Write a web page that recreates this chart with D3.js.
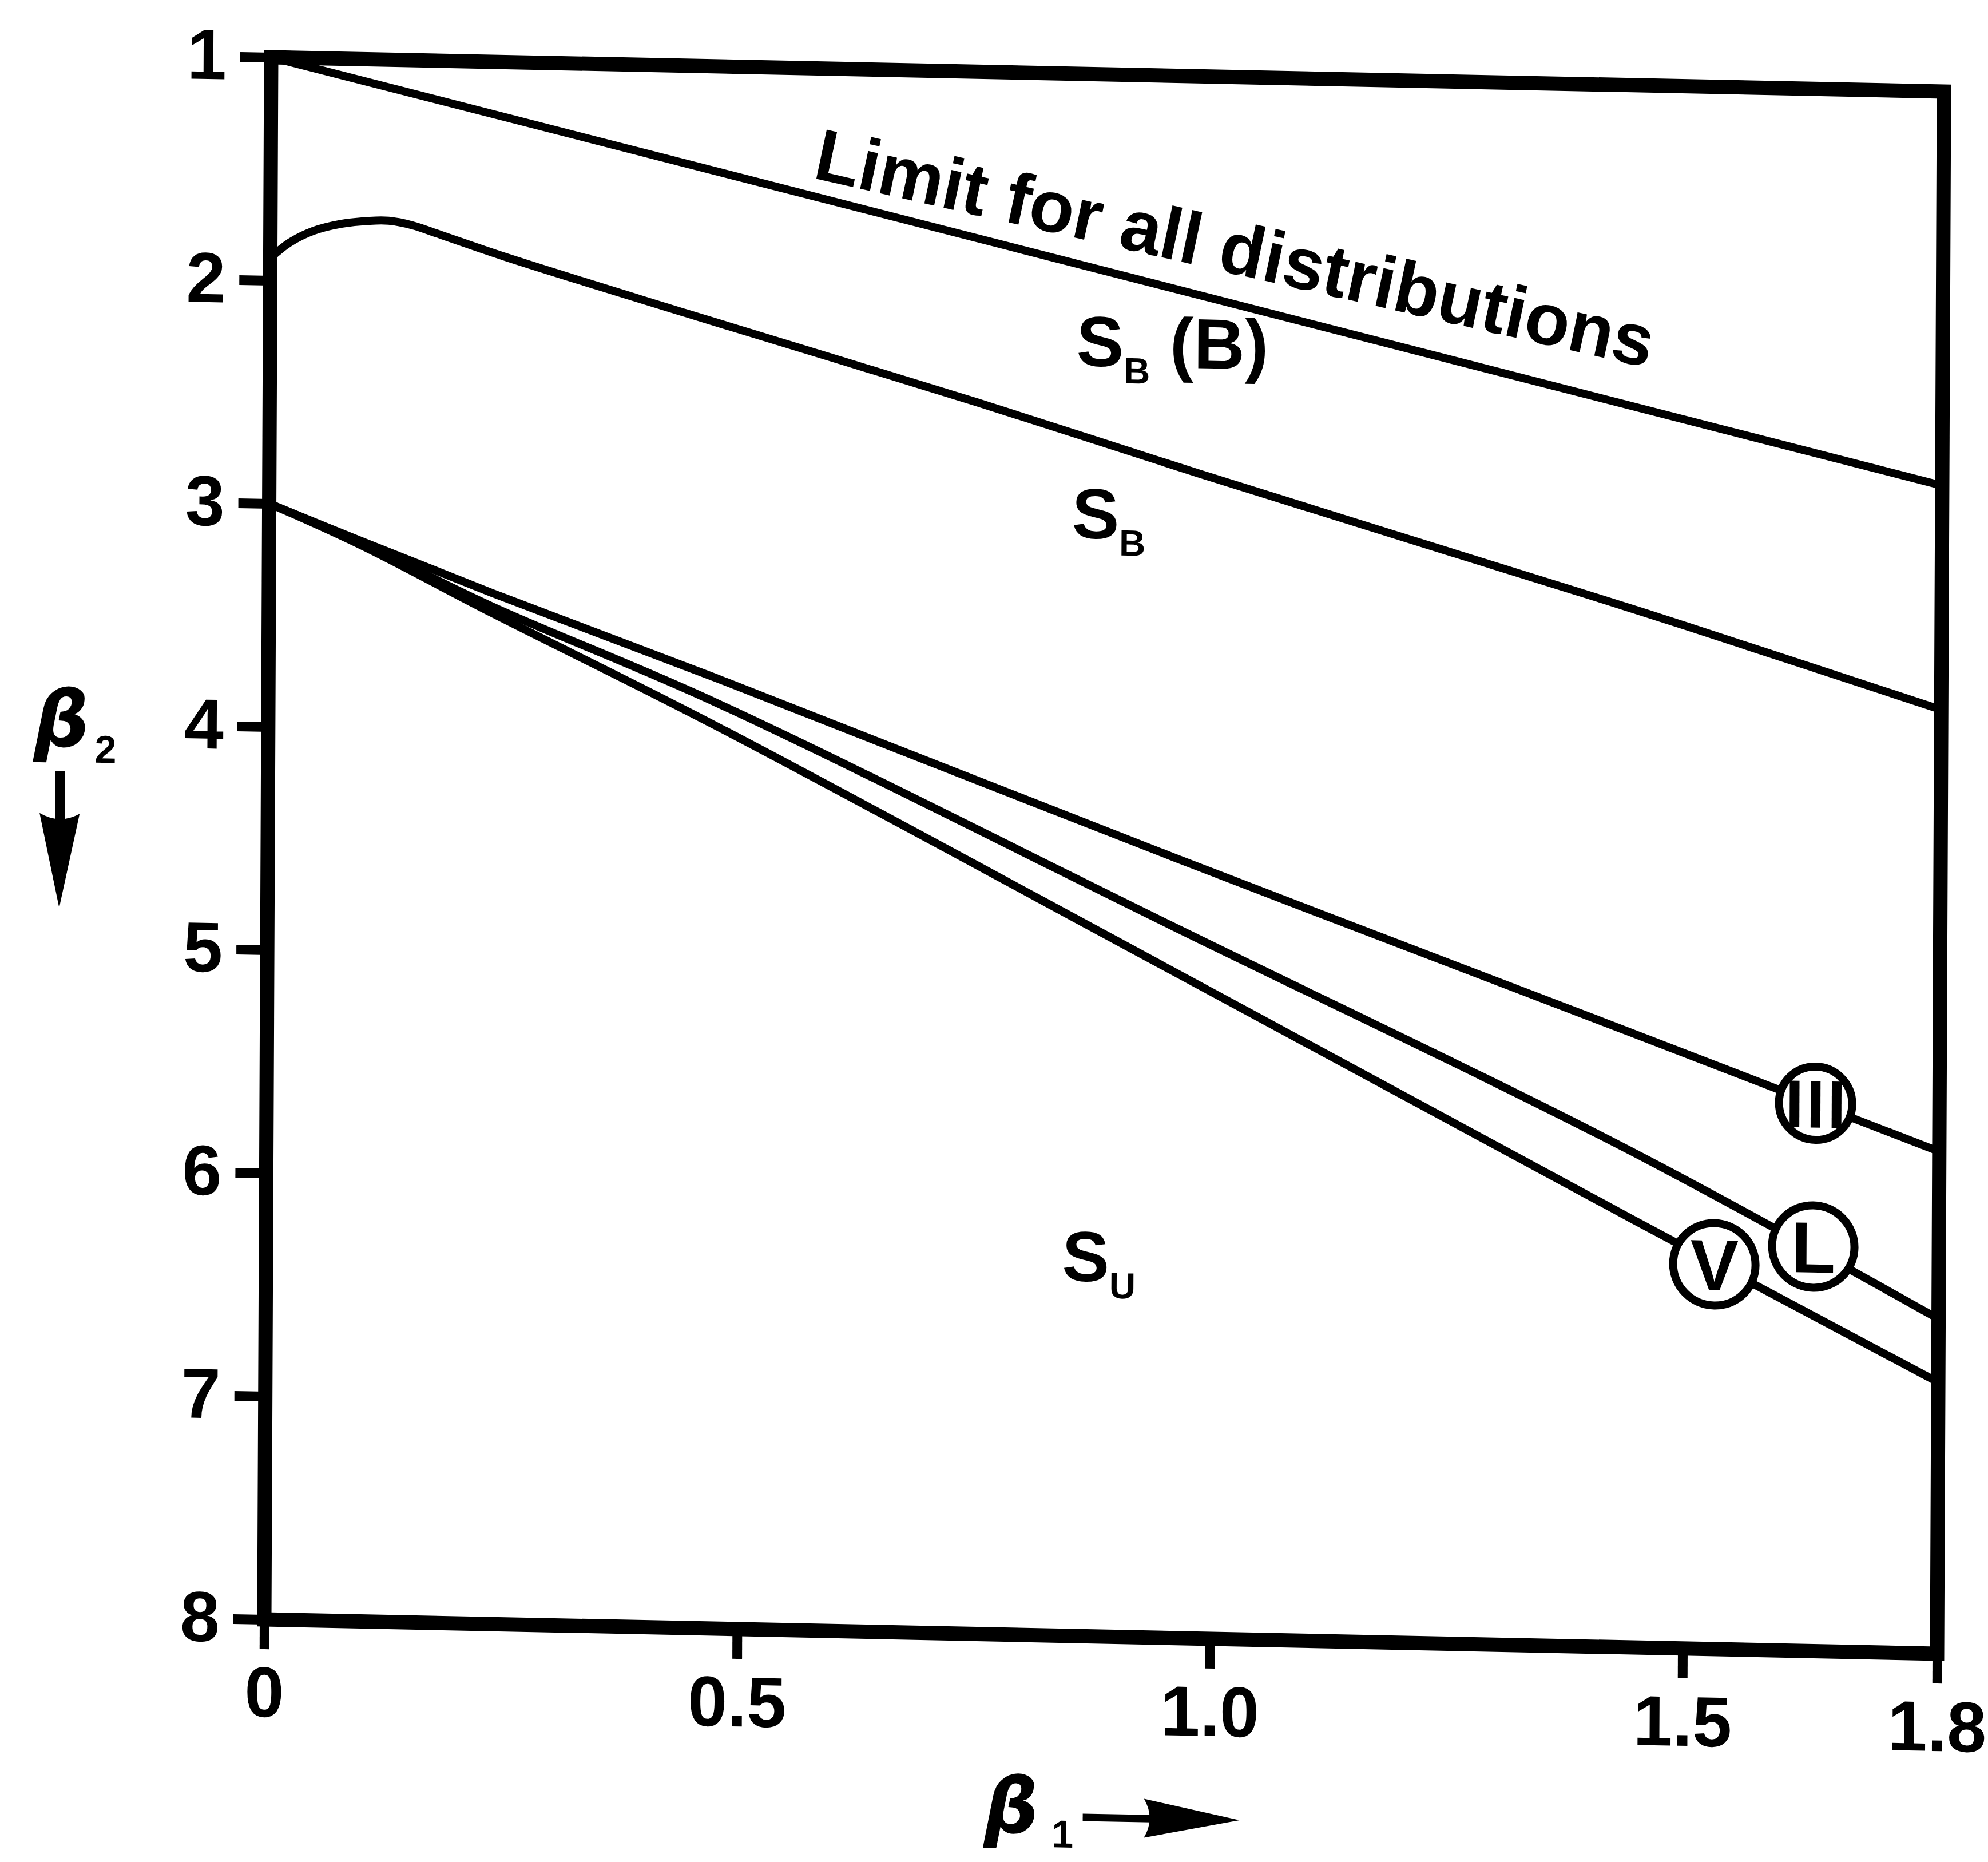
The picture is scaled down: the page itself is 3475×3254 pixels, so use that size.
<!DOCTYPE html>
<html>
<head>
<meta charset="utf-8">
<script src="https://cdn.jsdelivr.net/npm/d3@7"></script>
<style>
body { margin: 0; background: #fff; }
svg { display: block; }
</style>
</head>
<body>
<div id="chart"></div>
<script>
// Datos: pares [beta1, beta2]
var xTicks = [0, 0.5, 1.0, 1.5, 1.8];
var xTickLabels = ["0", "0.5", "1.0", "1.5", "1.8"];
var yTicks = [1, 2, 3, 4, 5, 6, 7, 8];

var limitLine = [[0, 1.0], [1.5, 2.497], [1.8, 2.766]];
var sbLine = [[0, 1.90], [0.02, 1.83], [0.045, 1.775], [0.075, 1.74], [0.105, 1.724], [0.125, 1.722],
              [0.15, 1.74], [0.18, 1.78], [0.25, 1.875], [0.44, 2.109], [0.747, 2.48], [0.983, 2.78],
              [1.405, 3.3], [1.5, 3.42], [1.8, 3.77]];
var typeIIILine = [[0, 3.0], [0.098, 3.16], [0.236, 3.38], [0.473, 3.74], [0.957, 4.50], [1.4425, 5.245], [1.8, 5.75]];
var lognormalLine = [[0, 3.0], [0.098, 3.17], [0.236, 3.44], [0.473, 3.85], [0.957, 4.81], [1.4425, 5.775], [1.8, 6.50]];
var typeVLine = [[0, 3.0], [0.098, 3.18], [0.236, 3.47], [0.473, 3.954], [0.957, 5.01], [1.4425, 6.076], [1.8, 6.784]];

// etiquetas en circulo sobre las curvas
var circleLabels = ["III", "L", "V"];
var circleB1 = [1.654, 1.652, 1.5355];
var circleB2 = [5.545, 6.187, 6.276];

// etiquetas de regiones
var regionMain = ["S", "S", "S"];
var regionSub = ["B", "B", "U"];
var regionTail = [" (B)", "", ""];
var regionB1 = [0.853, 0.849, 0.842];
var regionB2 = [2.308, 3.08, 6.409];

var limitText = "Limit for all distributions";
var limitB1 = 0.572, limitB2 = 1.49;

// Tamaño
var width = 3475, height = 3254;
var plotLeft = 474, plotTop = 100, plotW = 2924, plotH = 2730;
var font = "'Liberation Sans', Arial, sans-serif";

var svg = d3.select("#chart").append("svg")
    .attr("width", width)
    .attr("height", height);

svg.append("rect").attr("width", width).attr("height", height).attr("fill", "#fff");

// el original esta escaneado algo torcido
var g = svg.append("g")
    .attr("transform", "matrix(1,0.02052,-0.0044,1,0.44,-9.73)");

// eje x dibujado a mano: el tramo 1.5-1.8 queda algo mas corto
var x = d3.scaleLinear().domain([0, 1.5, 1.8]).range([plotLeft, plotLeft + 2479, plotLeft + plotW]);
var y = d3.scaleLinear().domain([1, 8]).range([plotTop, plotTop + plotH]);

// Ejes
var xAxis = d3.axisBottom(x)
    .tickValues(xTicks)
    .tickFormat(function(d, i) { return xTickLabels[i]; })
    .tickSize(52)
    .tickPadding(30);

var yAxis = d3.axisLeft(y)
    .tickValues(yTicks)
    .tickFormat(d3.format("d"))
    .tickSize(54)
    .tickPadding(24);

var gx = g.append("g")
    .attr("transform", "translate(0," + (plotTop + plotH) + ")")
    .call(xAxis);
var gy = g.append("g")
    .attr("transform", "translate(" + plotLeft + ",0)")
    .call(yAxis);

[gx, gy].forEach(function(a) {
    a.select(".domain").remove();
    a.selectAll("line").attr("stroke", "#000").attr("stroke-width", 17);
    a.selectAll("text")
        .attr("fill", "#000")
        .style("font-family", font)
        .style("font-weight", "bold")
        .style("font-size", "124px");
});

// Marco
g.append("rect")
    .attr("x", plotLeft).attr("y", plotTop)
    .attr("width", plotW).attr("height", plotH)
    .attr("fill", "none")
    .attr("stroke", "#000")
    .attr("stroke-width", 25);

// Curvas
var line = d3.line()
    .x(function(d) { return x(d[0]); })
    .y(function(d) { return y(d[1]); })
    .curve(d3.curveCatmullRom);

[limitLine, sbLine, typeIIILine, lognormalLine, typeVLine].forEach(function(s) {
    g.append("path")
        .attr("d", line(s))
        .attr("fill", "none")
        .attr("stroke", "#000")
        .attr("stroke-width", 14)
        .attr("stroke-linejoin", "round");
});

// Circulos con letra
var cl = g.selectAll(".clabel")
    .data(circleLabels)
    .enter()
    .append("g")
    .attr("class", "clabel")
    .attr("transform", function(d, i) { return "translate(" + x(circleB1[i]) + "," + y(circleB2[i]) + ")"; });

cl.append("circle")
    .attr("r", function(d) { return d === "III" ? 64 : 72; })
    .attr("fill", "#fff")
    .attr("stroke", "#000")
    .attr("stroke-width", 14);

cl.append("text")
    .attr("text-anchor", "middle")
    .attr("dy", "0.36em")
    .attr("dx", function(d) { return d === "III" ? 2 : 0; })
    .style("letter-spacing", function(d) { return d === "III" ? "4px" : "0px"; })
    .style("font-family", font)
    .style("font-weight", "bold")
    .style("font-size", function(d) { return d === "III" ? "118px" : "126px"; })
    .text(function(d) { return d; });

// Texto del limite
g.append("text")
    .attr("transform", "translate(" + x(limitB1) + "," + y(limitB2) + ") rotate(11.67)")
    .attr("textLength", 1495)
    .attr("lengthAdjust", "spacing")
    .style("font-family", font)
    .style("font-weight", "bold")
    .style("font-size", "128px")
    .text(limitText);

// Regiones S_B, S_U
regionMain.forEach(function(m, i) {
    var t = g.append("text")
        .attr("x", x(regionB1[i]))
        .attr("y", y(regionB2[i]))
        .style("font-family", font)
        .style("font-weight", "bold")
        .style("font-size", "124px");
    t.append("tspan").text(m);
    t.append("tspan").attr("dy", 29).style("font-size", "64px").text(regionSub[i]);
    if (regionTail[i]) {
        t.append("tspan").attr("dy", -29).style("white-space", "pre").text(regionTail[i]);
    }
});

// Titulos de ejes
g.append("text")
    .attr("x", 64).attr("y", 1312)
    .style("font-family", "'DejaVu Sans', sans-serif")
    .style("font-style", "italic")
    .style("font-weight", "bold")
    .style("font-size", "136px")
    .text("β");
g.append("text")
    .attr("x", 171).attr("y", 1339)
    .style("font-family", font)
    .style("font-weight", "bold")
    .style("font-size", "68px")
    .text("2");
g.append("rect")
    .attr("x", 102).attr("y", 1355)
    .attr("width", 17).attr("height", 88)
    .attr("fill", "#000");
g.append("path")
    .attr("d", "M75,1429 Q110,1449 145,1429 L110,1594 Z")
    .attr("fill", "#000");

g.append("text")
    .attr("x", 1733).attr("y", 3176)
    .style("font-family", "'DejaVu Sans', sans-serif")
    .style("font-style", "italic")
    .style("font-weight", "bold")
    .style("font-size", "134px")
    .text("β");
g.append("text")
    .attr("x", 1852).attr("y", 3200)
    .style("font-family", font)
    .style("font-weight", "bold")
    .style("font-size", "68px")
    .text("1");
g.append("rect")
    .attr("x", 1906).attr("y", 3140)
    .attr("width", 120).attr("height", 13)
    .attr("fill", "#000");
g.append("path")
    .attr("d", "M2013,3112 Q2033,3146 2013,3180 L2180,3146 Z")
    .attr("fill", "#000");
</script>
</body>
</html>
